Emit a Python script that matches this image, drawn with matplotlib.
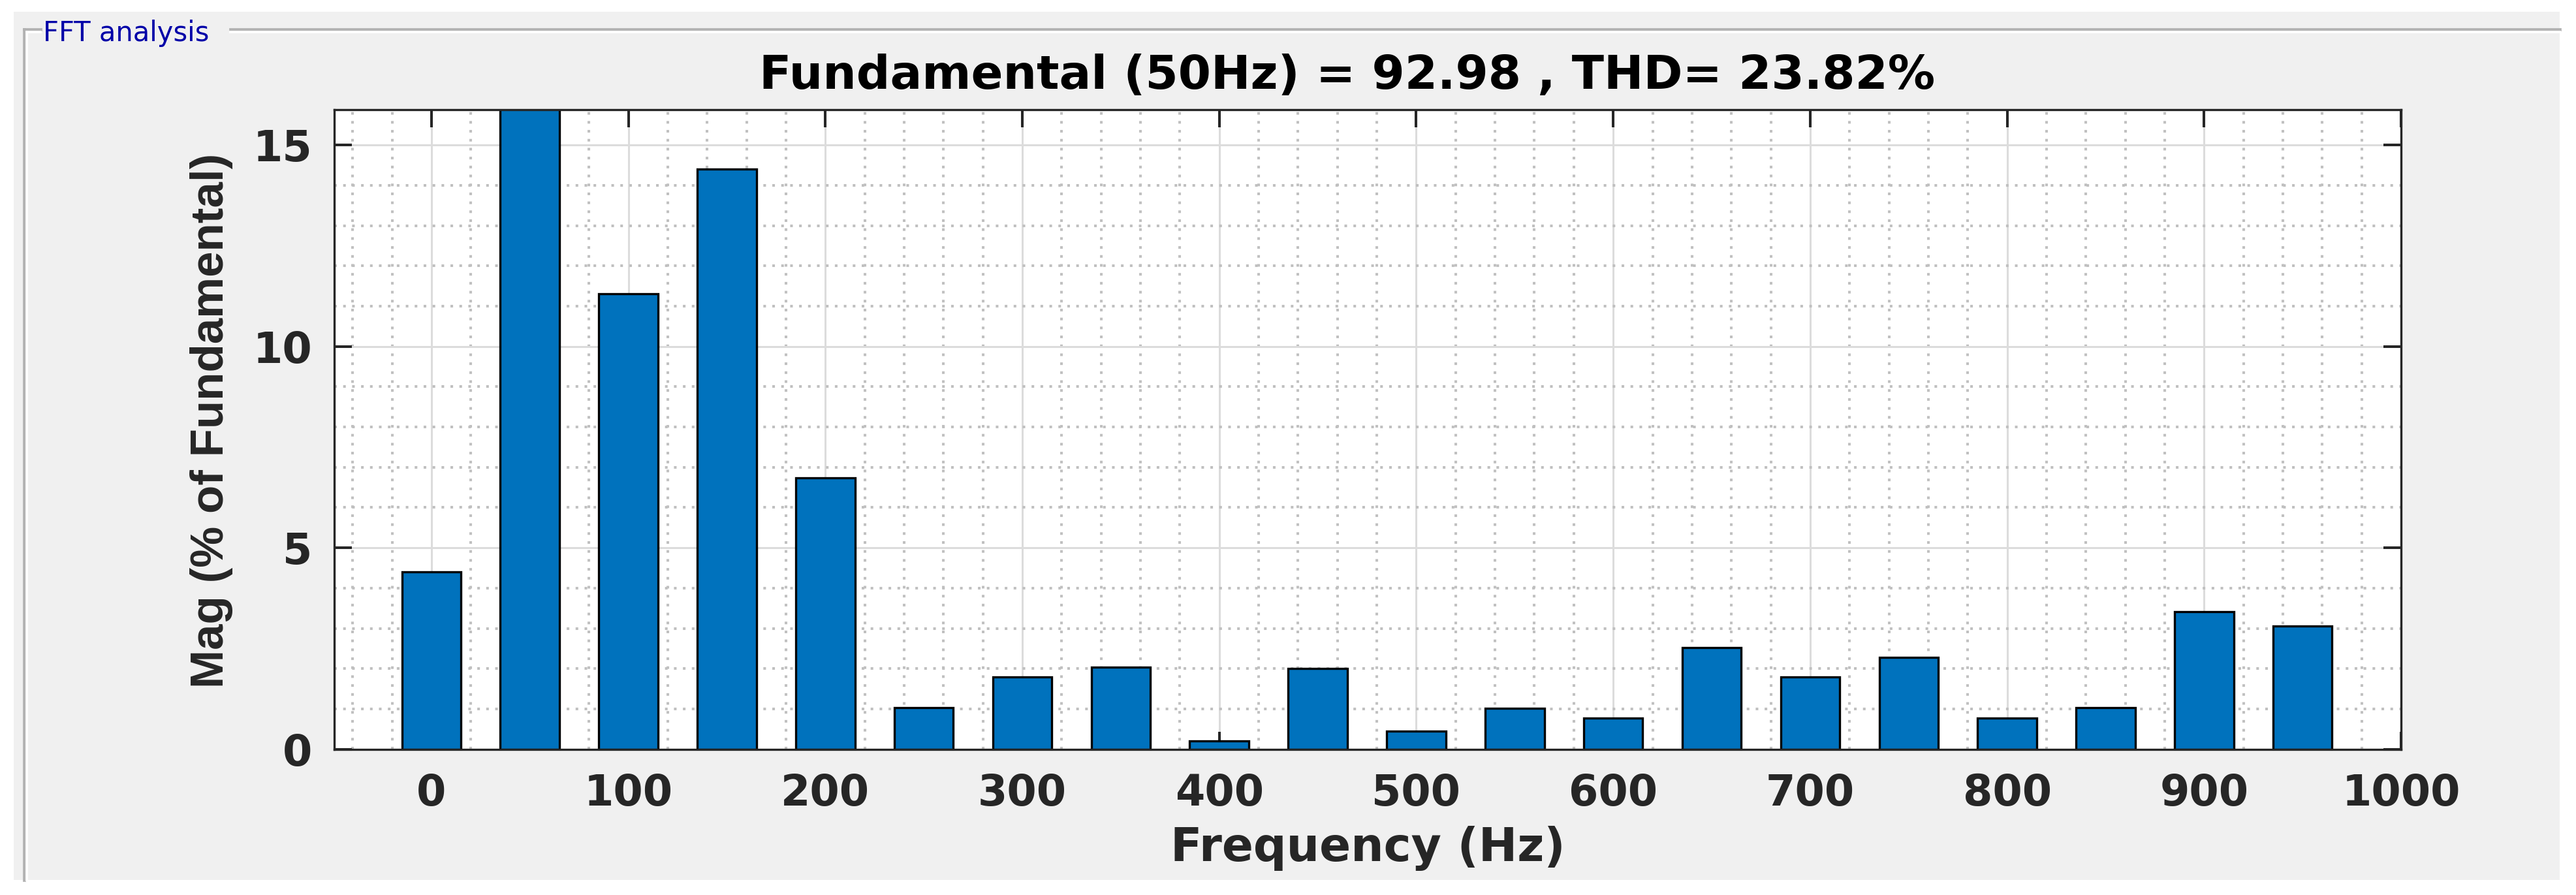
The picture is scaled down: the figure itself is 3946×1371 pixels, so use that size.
import matplotlib
matplotlib.use("Agg")
import matplotlib.pyplot as plt
from matplotlib.lines import Line2D
from matplotlib.patches import Rectangle
from matplotlib.ticker import MultipleLocator

# harmonic spectrum, % of fundamental (50 Hz bar is the fundamental itself)
freq = [0, 50, 100, 150, 200, 250, 300, 350, 400, 450,
        500, 550, 600, 650, 700, 750, 800, 850, 900, 950]
mag = [4.41, 100, 11.31, 14.41, 6.74, 1.03, 1.80, 2.04, 0.20, 2.00,
       0.45, 1.02, 0.77, 2.53, 1.80, 2.28, 0.77, 1.03, 3.42, 3.05]
xticks = list(range(0, 1001, 100))
yticks = [0, 5, 10, 15]
title = "Fundamental (50Hz) = 92.98 , THD= 23.82%"
panel_label = "FFT analysis"

W, H = 3946, 1371
plt.rcParams["font.family"] = ["DejaVu Sans"]
plt.rcParams["font.weight"] = "bold"

fig = plt.figure(figsize=(W / 100, H / 100), dpi=100, facecolor="white")


def fx(x):
    return x / W


def fy(y):
    return 1 - y / H


# gray uipanel background
fig.patches.append(Rectangle((fx(21), fy(1348)), fx(3921) - fx(21), fy(18) - fy(1348),
                             transform=fig.transFigure, facecolor="#f0f0f0",
                             edgecolor="none", zorder=-2))

# groupbox frame (gray line with white highlight)
segs = [((36.7, 44.5), (62, 44.5)), ((353, 44.5), (3921, 44.5)), ((36.7, 44.5), (36.7, 1348))]
hl = [((40.9, 48.5), (62, 48.5)), ((353, 48.5), (3921, 48.5)), ((40.9, 48.5), (40.9, 1348))]
for (a, b) in segs:
    fig.add_artist(Line2D([fx(a[0]), fx(b[0])], [fy(a[1]), fy(b[1])],
                          transform=fig.transFigure, color="#b2b2b2", lw=3.4, zorder=-1))
for (a, b) in hl:
    fig.add_artist(Line2D([fx(a[0]), fx(b[0])], [fy(a[1]), fy(b[1])],
                          transform=fig.transFigure, color="white", lw=2.7, zorder=-1))
fig.text(fx(66), fy(63), panel_label, ha="left", va="baseline", fontsize=30,
         fontweight="normal", family=["DejaVu Sans"], color="#0000a8")

ax = fig.add_axes([0.1297, 0.1629, 0.8024, 0.7146])
ax.set_zorder(1)
ax.set_facecolor("white")
ax.bar(freq, mag, width=30, color="#0072bd", edgecolor="black", linewidth=2.4, zorder=2)

ax.set_xlim(-49.4, 1000)
ax.set_ylim(0, 15.88)
ax.set_xticks(xticks)
ax.set_yticks(yticks)
ax.xaxis.set_minor_locator(MultipleLocator(20))
ax.yaxis.set_minor_locator(MultipleLocator(1))

ax.set_axisbelow(True)
ax.grid(which="major", color="#dcdcdc", lw=2.2, ls="-")
ax.grid(which="minor", color="#c0c0c0", lw=2.9, ls=(0, (1, 2.4)))

ax.tick_params(which="major", direction="in", length=19.5, width=2.9, color="#262626",
               top=True, right=True, labelsize=47, labelcolor="#262626")
ax.tick_params(axis="x", which="major", pad=26)
ax.tick_params(axis="y", which="major", pad=24)
ax.tick_params(which="minor", length=0)
for s in ax.spines.values():
    s.set_linewidth(2.4)
    s.set_color("#262626")

ax.set_title(title, fontsize=52, fontweight="bold", pad=23, color="black", x=0.49)
ax.set_xlabel("Frequency (Hz)", fontsize=51, fontweight="bold", color="#262626")
ax.xaxis.set_label_coords(0.5, -0.12)
ax.set_ylabel("Mag (% of Fundamental)", fontsize=51, fontweight="bold", color="#262626",
              family=["Liberation Sans", "DejaVu Sans"])
ax.yaxis.set_label_coords(-0.0489, 0.514)

fig.savefig("out.png", dpi=100, facecolor="white")
